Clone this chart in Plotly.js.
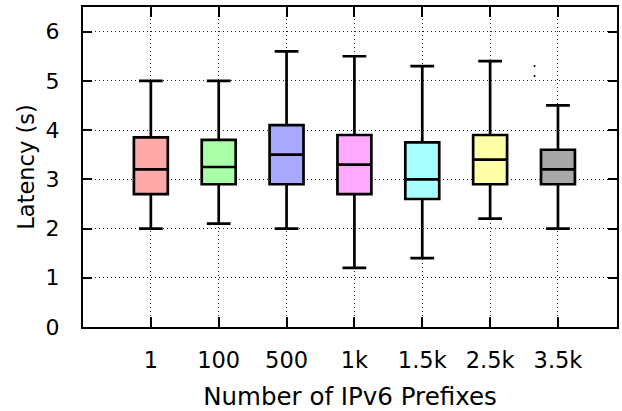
<!DOCTYPE html>
<html>
<head>
<meta charset="utf-8">
<script src="https://cdn.plot.ly/plotly-3.0.1.min.js"></script>
<style>html,body{margin:0;padding:0;background:#fff;}</style>
</head>
<body>
<div id="chart" style="width:622px;height:411px;"></div>
<script>
var categories = ['1', '100', '500', '1k', '1.5k', '2.5k', '3.5k'];
var lowerWhisker = [2.0, 2.1, 2.0, 1.2, 1.4, 2.2, 2.0];
var q1 = [2.7, 2.9, 2.9, 2.7, 2.6, 2.9, 2.9];
var median = [3.2, 3.25, 3.5, 3.3, 3.0, 3.4, 3.2];
var q3 = [3.85, 3.8, 4.1, 3.9, 3.75, 3.9, 3.6];
var upperWhisker = [5.0, 5.0, 5.6, 5.5, 5.3, 5.4, 4.5];
var fillColors = ['#ffa8a8', '#a8ffa8', '#a8a8ff', '#ffa8ff', '#a8ffff', '#ffffa8', '#a8a8a8'];
var outlierCategory = '3.5k';
var outlierValues = [5.3, 5.1];

var positions = categories.map(function (c, i) { return i + 1; });
var traces = categories.map(function (c, i) {
  return {
    type: 'box',
    x: [positions[i]],
    q1: [q1[i]],
    median: [median[i]],
    q3: [q3[i]],
    lowerfence: [lowerWhisker[i]],
    upperfence: [upperWhisker[i]],
    width: 0.5,
    whiskerwidth: 0.7,
    fillcolor: fillColors[i],
    line: {color: '#000', width: 2.7},
    boxpoints: false,
    hoverinfo: 'skip',
    showlegend: false
  };
});
var oIdx = categories.indexOf(outlierCategory);
traces.push({
  type: 'scatter',
  mode: 'markers',
  x: outlierValues.map(function () { return positions[oIdx] - 0.345; }),
  y: outlierValues,
  marker: {color: '#000', size: 2},
  showlegend: false,
  hoverinfo: 'skip'
});

function f(size) { return {family: 'DejaVu Sans', size: size, color: '#000'}; }
var layout = {
  width: 622, height: 411,
  margin: {l: 83, r: 5, t: 7, b: 84, pad: 0},
  paper_bgcolor: '#fff', plot_bgcolor: '#fff',
  font: f(20),
  showlegend: false,
  xaxis: {
    range: [0, 7.87],
    tickvals: positions,
    ticktext: categories,
    ticks: 'inside', ticklen: 10, tickwidth: 2, tickcolor: '#000',
    showline: true, linecolor: '#000', linewidth: 2, mirror: 'ticks',
    showgrid: true, gridcolor: '#222', griddash: '1px,3px', gridwidth: 1,
    zeroline: false,
    ticklabelstandoff: 12,
    tickfont: f(22.5),
    title: {text: 'Number of IPv6 Prefixes', font: f(24.5), standoff: 16}
  },
  yaxis: {
    range: [0, 6.5],
    tickvals: [0, 1, 2, 3, 4, 5, 6],
    ticks: 'inside', ticklen: 9, tickwidth: 2, tickcolor: '#000',
    showline: true, linecolor: '#000', linewidth: 2, mirror: 'ticks',
    showgrid: true, gridcolor: '#222', griddash: '1px,3px', gridwidth: 1,
    zeroline: false,
    ticklabelstandoff: 17,
    tickfont: f(22),
    title: {text: 'Latency (s)', font: f(22.5), standoff: 5}
  }
};
Plotly.newPlot('chart', traces, layout, {displayModeBar: false, staticPlot: true});
</script>
</body>
</html>
